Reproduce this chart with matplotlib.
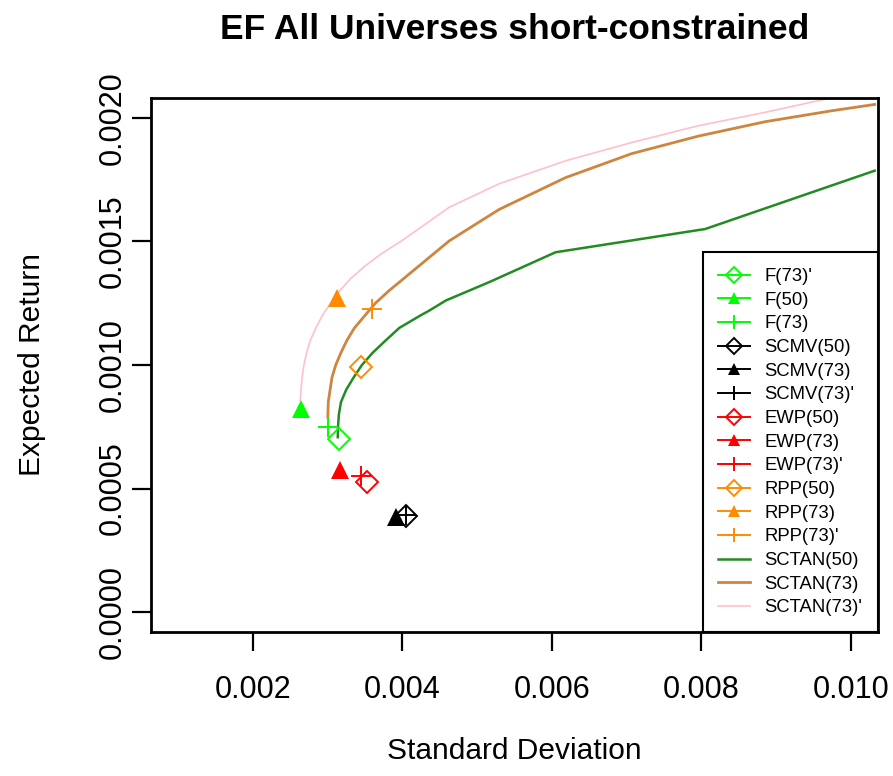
import numpy as np
import matplotlib
matplotlib.use("Agg")
import matplotlib.pyplot as plt
from matplotlib.ticker import FormatStrFormatter

plt.rcParams['font.family'] = ['Liberation Sans', 'DejaVu Sans']

# Efficient frontier curves (std dev, expected return)
sctan50_sd = [0.003137, 0.00314, 0.003152, 0.00318, 0.00325, 0.00335, 0.00346,
              0.003605, 0.00378, 0.00396, 0.00424, 0.00436, 0.004583,
              0.00516, 0.006049, 0.008049, 0.010316]
sctan50_ret = [0.000708, 0.00075, 0.0008, 0.00085, 0.0009, 0.00095, 0.0010,
               0.00105, 0.0011, 0.00115, 0.0012, 0.00122, 0.001261,
               0.001335, 0.001456, 0.00155, 0.001786]

sctan73_sd = [0.003004, 0.00301, 0.003027, 0.00306, 0.00311, 0.00318, 0.00326,
              0.00336, 0.0035, 0.00364, 0.00382, 0.00396, 0.00422, 0.004627,
              0.005293, 0.006183, 0.007067, 0.00796, 0.00885, 0.009733, 0.010316]
sctan73_ret = [0.000789, 0.00085, 0.000885, 0.00095, 0.0010, 0.00105, 0.0011,
               0.00115, 0.0012, 0.00125, 0.0013, 0.001335, 0.0014, 0.001502,
               0.001629, 0.001758, 0.001855, 0.001926, 0.001984, 0.002028, 0.002054]

sctan73p_sd = [0.002636, 0.002645, 0.00266, 0.002685, 0.00272, 0.00277, 0.002845,
               0.00293, 0.00304, 0.00316, 0.00331, 0.0035, 0.00372, 0.00398,
               0.004627, 0.005293, 0.006183, 0.007067, 0.00796, 0.00885, 0.009467,
               0.0097, 0.010333]
sctan73p_ret = [0.000857, 0.0009, 0.00095, 0.0010, 0.00105, 0.0011, 0.00115,
                0.0012, 0.00125, 0.0013, 0.00135, 0.0014, 0.00145, 0.0015,
                0.001638, 0.001733, 0.001826, 0.0019, 0.001968, 0.002022, 0.002063,
                0.002078, 0.00212]

# Single portfolios: label, sd, return, colour, marker
point_labels = ["F(73)'", "F(50)", "F(73)",
                "SCMV(50)", "SCMV(73)", "SCMV(73)'",
                "EWP(50)", "EWP(73)", "EWP(73)'",
                "RPP(50)", "RPP(73)", "RPP(73)'"]
point_sd = [0.003147, 0.00264, 0.0030,
            0.00405, 0.003916, 0.00405,
            0.00353, 0.00317, 0.00345,
            0.003453, 0.003133, 0.0036]
point_ret = [0.000699, 0.000820, 0.000748,
             0.000388, 0.000384, 0.000392,
             0.000525, 0.000574, 0.000549,
             0.000990, 0.001269, 0.001228]
point_colors = ["#00ff00"] * 3 + ["black"] * 3 + ["red"] * 3 + ["darkorange"] * 3
point_markers = ["D", "^", "+"] * 4

fig = plt.figure(figsize=(8.93, 7.76), dpi=100)
ax = fig.add_axes([0.1691, 0.1856, 0.8141, 0.6881])

handles = []
for lab, sd, r, c, m in zip(point_labels, point_sd, point_ret, point_colors, point_markers):
    if m == "D":
        kw = dict(markersize=11.5, markerfacecolor="none", markeredgewidth=1.4)
    elif m == "^":
        kw = dict(markersize=13, markeredgewidth=0)
    else:
        kw = dict(markersize=15, markeredgewidth=1.4)
    ax.plot([sd], [r], linestyle="none", marker=m, color=c, zorder=3, **kw)
    # legend proxy: line with marker
    h, = ax.plot([], [], linestyle="-", linewidth=1.4, marker=m, color=c, label=lab,
                 **{k: v * 0.7 if k == "markersize" else v for k, v in kw.items()})
    handles.append(h)

l1, = ax.plot(sctan50_sd, sctan50_ret, color="#228B22", linewidth=1.8, label="SCTAN(50)")
l2, = ax.plot(sctan73_sd, sctan73_ret, color="#CD853F", linewidth=2.0, label="SCTAN(73)")
l3, = ax.plot(sctan73p_sd, sctan73p_ret, color="pink", linewidth=1.2, label="SCTAN(73)'")
handles += [l1, l2, l3]

ax.set_xlim(0.00064, 0.01036)
ax.set_ylim(-0.00008, 0.00208)
ax.set_xticks([0.002, 0.004, 0.006, 0.008, 0.010])
ax.set_yticks([0.0, 0.0005, 0.0010, 0.0015, 0.0020])
ax.xaxis.set_major_formatter(FormatStrFormatter("%.3f"))
ax.yaxis.set_major_formatter(FormatStrFormatter("%.4f"))
ax.tick_params(axis="both", direction="out", length=14, width=1.6, labelsize=22)
ax.tick_params(axis="x", pad=17)
ax.tick_params(axis="y", pad=3)
for t in ax.get_yticklabels():
    t.set_rotation(90)
    t.set_va("center")
for s in ax.spines.values():
    s.set_linewidth(2.0)

ax.set_xlabel("Standard Deviation", fontsize=21.5, va="center")
ax.xaxis.set_label_coords(0.5, -0.223)
ax.set_ylabel("Expected Return", fontsize=21.5, va="center")
ax.yaxis.set_label_coords(-0.1637, 0.5)

fig.text(0.576, 0.962, "EF All Universes short-constrained", fontsize=25.5,
         fontweight="bold", ha="center", va="center")

leg = ax.legend(handles=handles, loc="lower right", fontsize=13.3, frameon=True,
                fancybox=False, framealpha=1, edgecolor="black", borderaxespad=0,
                handlelength=1.7, handletextpad=0.8, labelspacing=0.36,
                borderpad=0.85)
leg.get_frame().set_linewidth(1.5)

fig.savefig("out.png", dpi=100)
